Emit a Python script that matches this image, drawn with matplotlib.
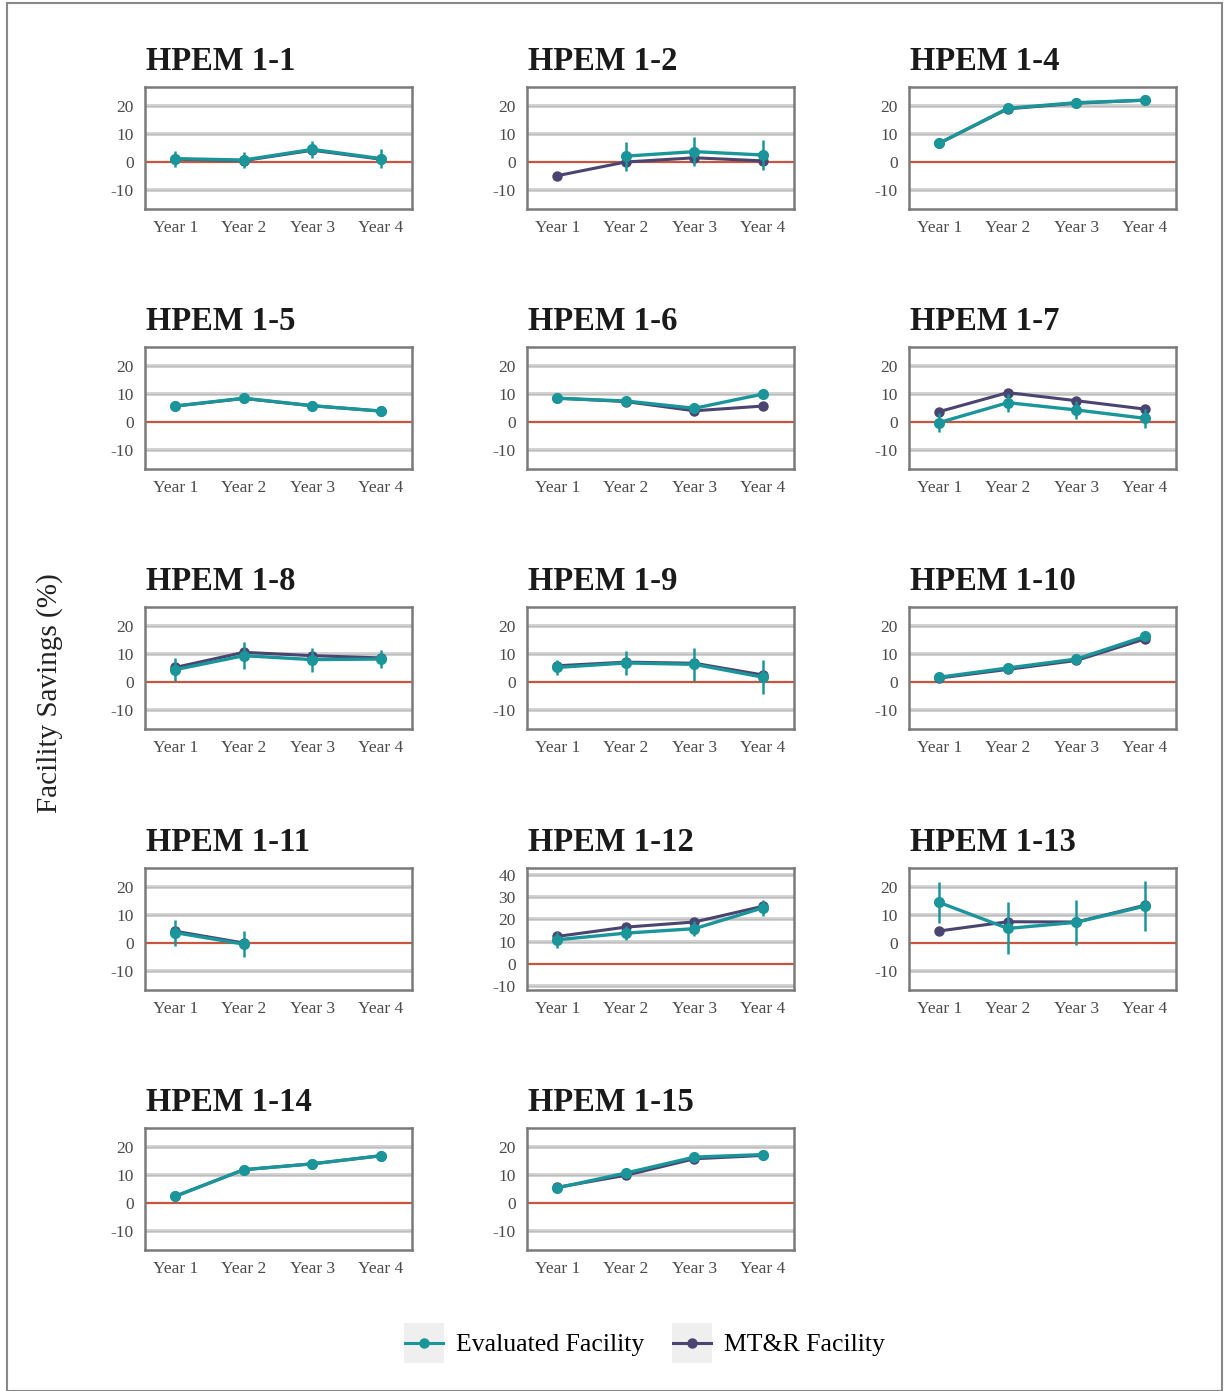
import matplotlib
matplotlib.use("Agg")
import matplotlib.pyplot as plt
from matplotlib.patches import Rectangle
from matplotlib.lines import Line2D
import numpy as np

years = ["Year 1", "Year 2", "Year 3", "Year 4"]
titles = ["HPEM 1-1", "HPEM 1-2", "HPEM 1-4", "HPEM 1-5", "HPEM 1-6", "HPEM 1-7",
          "HPEM 1-8", "HPEM 1-9", "HPEM 1-10", "HPEM 1-11", "HPEM 1-12", "HPEM 1-13",
          "HPEM 1-14", "HPEM 1-15"]
N = np.nan
evaluated = [
    [1.2, 0.7, 4.5, 1.2],
    [N, 2.1, 3.7, 2.5],
    [6.7, 19.2, 21.2, 22.1],
    [5.7, 8.5, 5.8, 3.9],
    [8.5, 7.5, 4.9, 10.0],
    [-0.2, 6.9, 4.3, 1.3],
    [4.4, 9.4, 8.0, 8.2],
    [5.2, 6.8, 6.3, 1.7],
    [1.7, 5.0, 8.2, 16.3],
    [3.7, -0.4, N, N],
    [10.8, 13.8, 15.8, 25.2],
    [14.5, 5.2, 7.4, 13.2],
    [2.4, 11.9, 14.0, 16.9],
    [5.4, 10.7, 16.4, 17.3],
]
evaluated_err = [
    [2.9, 3.0, 3.1, 3.4],
    [0, 5.2, 5.2, 5.2],
    [0.5, 0.5, 0.5, 0.5],
    [0.5, 0.5, 0.5, 0.5],
    [0.5, 0.5, 0.5, 0.5],
    [3.5, 3.2, 3.3, 3.3],
    [4.2, 4.8, 4.3, 3.3],
    [2.7, 4.3, 6.0, 6.0],
    [0.5, 0.5, 0.5, 0.5],
    [4.6, 4.6, 0, 0],
    [3.5, 3.0, 3.3, 3.5],
    [7.2, 9.3, 8.0, 8.8],
    [0.5, 0.5, 0.5, 0.5],
    [0.5, 0.5, 0.5, 0.5],
]
mtr = [
    [1.0, 0.5, 4.2, 1.0],
    [-4.9, 0.0, 1.5, 0.4],
    [6.7, 19.0, 21.0, 22.1],
    [5.7, 8.4, 5.8, 3.9],
    [8.5, 7.3, 4.0, 5.7],
    [3.7, 10.5, 7.6, 4.6],
    [5.2, 10.6, 9.4, 8.6],
    [5.8, 7.1, 6.7, 2.5],
    [1.4, 4.5, 7.7, 15.4],
    [4.2, 0.0, N, N],
    [12.3, 16.5, 18.8, 25.9],
    [4.3, 7.6, 7.5, 13.5],
    [2.4, 11.9, 14.0, 16.9],
    [5.6, 9.9, 15.8, 17.0],
]

TEAL = "#1a969b"
PURPLE = "#4a4470"
W, H = 1225, 1391
fig = plt.figure(figsize=(W / 100, H / 100), dpi=100)
serif = ["Liberation Serif", "DejaVu Serif"]

fig.patches.append(Rectangle((7 / W, 0), (1222 - 7) / W, (H - 3) / H, transform=fig.transFigure,
                             fill=False, edgecolor="#888888", lw=1.5))

col_x = [145, 527, 909]
row_y = [87, 347, 607, 868, 1128]
aw, ah = 267, 122

for i, t in enumerate(titles):
    r, c = divmod(i, 3)
    x0 = col_x[c]
    y0 = row_y[r]
    ax = fig.add_axes([x0 / W, 1 - (y0 + ah) / H, aw / W, ah / H])
    xs = np.arange(4)
    if t == "HPEM 1-12":
        ax.set_ylim(-11.8, 43.1)
        ticks = [-10, 0, 10, 20, 30, 40]
    else:
        ax.set_ylim(-16.8, 26.8)
        ticks = [-10, 0, 10, 20]
    ax.set_xlim(-0.44, 3.45)
    for tk in ticks:
        if tk == 0:
            ax.axhline(0, color="#c8553d", lw=1.6, zorder=1)
        else:
            ax.axhline(tk, color="#d2d2d2", lw=2.8, zorder=0.5)
            ax.axhline(tk, color="#bdbdbd", lw=0.8, zorder=0.6)
    e = np.array(evaluated[i]); ee = np.array(evaluated_err[i]); m = np.array(mtr[i])
    ax.errorbar(xs, e, yerr=ee, color=TEAL, lw=2.4, marker="o", ms=7, elinewidth=1.8,
                capsize=0, zorder=3)
    ax.plot(xs, m, color=PURPLE, lw=2.2, marker="o", ms=6.5, zorder=2.9)
    ax.set_yticks(ticks)
    ax.set_yticklabels([str(tk) for tk in ticks], fontsize=12.5, color="#4a4a4a", family=serif)
    ax.set_xticks(xs)
    ax.set_xticklabels(years, fontsize=12.5, color="#4a4a4a", family=serif)
    ax.tick_params(length=0, pad=8)
    for s in ax.spines.values():
        s.set_color("#7a7a7a")
        s.set_linewidth(1.8)
    fig.text((x0 + 1) / W, 1 - (y0 - 17) / H, t, fontsize=23.5, fontweight="bold",
             family=serif, color="#1a1a1a", va="baseline", ha="left")

fig.text(50 / W, 1 - 693 / H, "Facility Savings (%)", rotation=90, fontsize=21,
         family=serif, color="#222222", ha="center", va="center")

handles = [Line2D([], [], color=TEAL, lw=2.2, marker="o", ms=6.5),
           Line2D([], [], color=PURPLE, lw=2.2, marker="o", ms=6.5)]
leg = fig.legend(handles, ["Evaluated Facility", "MT&R Facility"], loc="center",
                 bbox_to_anchor=(645 / W, 1 - 1345 / H), ncol=2, frameon=False,
                 prop={"family": serif, "size": 18.5}, handlelength=1.5, columnspacing=1.1,
                 handletextpad=0.5)
fig.canvas.draw()
inv = fig.transFigure.inverted()
for h in leg.legend_handles:
    bb = h.get_window_extent(fig.canvas.get_renderer())
    cx = (bb.x0 + bb.x1) / 2
    cy = (bb.y0 + bb.y1) / 2
    (fx0, fy0) = inv.transform((cx - 20, cy - 20))
    (fx1, fy1) = inv.transform((cx + 20, cy + 20))
    fig.patches.append(Rectangle((fx0, fy0), fx1 - fx0, fy1 - fy0, transform=fig.transFigure,
                                 facecolor="#efefef", edgecolor="none", zorder=0))
fig.savefig("out.png", dpi=100)
